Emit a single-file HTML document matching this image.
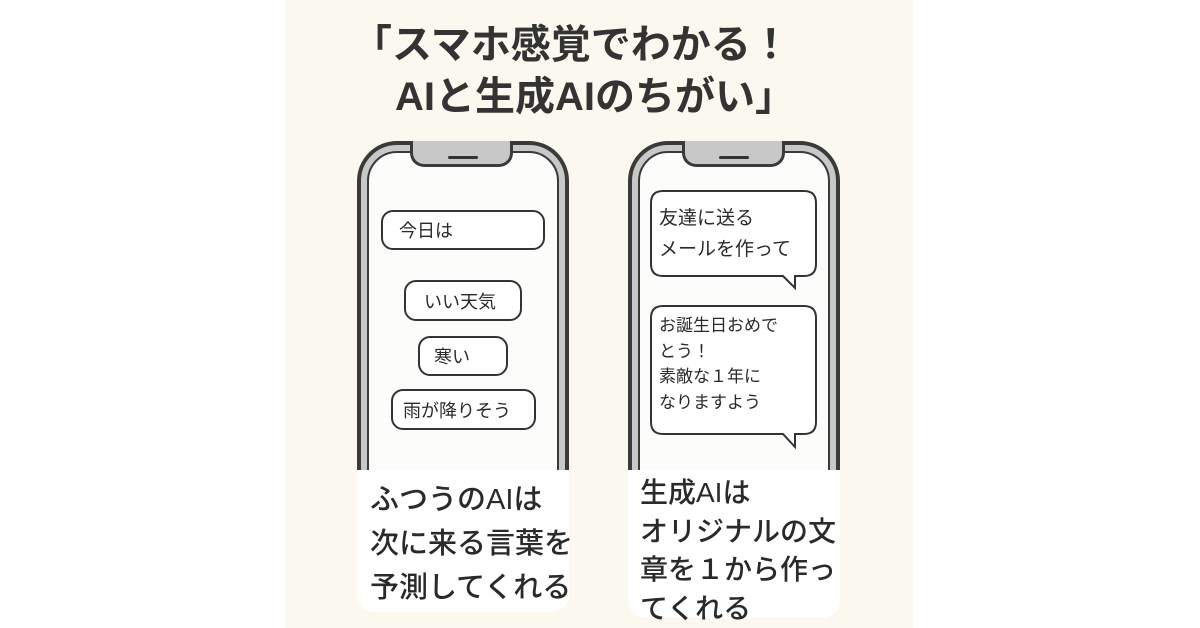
<!DOCTYPE html>
<html><head><meta charset="utf-8"><style>
body{margin:0;width:1200px;height:628px;background:#fff;position:relative;overflow:hidden;font-family:"Liberation Sans","Noto Sans CJK JP",sans-serif;color:#2a2a2a}
.panel{position:absolute;left:285px;top:0;width:628px;height:628px;background:#fbf8ef}
.t{position:absolute;font-weight:bold;font-size:40px;white-space:nowrap;color:#333;line-height:1}
.phone{position:absolute;top:141px;width:212px;height:400px;border:4px solid #3a3a3a;border-radius:40px;background:#c8c8c8;box-sizing:border-box}
.screen{position:absolute;left:6px;top:6px;right:6px;bottom:0;border:2px solid #3a3a3a;border-radius:30px;background:#fcfcfa}
.notch{position:absolute;top:-4px;height:26px;background:#c8c8c8;border:3px solid #3a3a3a;border-top:none;border-radius:0 0 14px 14px;box-sizing:border-box}
.spk{position:absolute;top:12px;height:3px;background:#333;border-radius:2px}
.lab{position:absolute;top:470px;width:212px;background:#fff;border-radius:0 0 18px 18px}
.b{position:absolute;border:2px solid #333;border-radius:12px;background:#fff;box-sizing:border-box;font-size:18px;display:flex;align-items:center}
.lt{position:absolute;font-size:29px;line-height:42px;white-space:nowrap;font-weight:500}
</style></head><body>
<div class="panel"></div>
<div class="t" style="left:352px;top:25px">「スマホ感覚でわかる！</div>
<div class="t" style="left:395px;top:77px">AIと生成AIのちがい」</div>

<div class="phone" style="left:357px"><div class="screen"></div></div>
<div class="notch" style="left:410px;top:141px;width:103px"></div>
<div class="spk" style="left:448px;top:156px;width:30px"></div>
<div class="b" style="left:381px;top:210px;width:164px;height:40px;padding-left:16px">今日は</div>
<div class="b" style="left:404px;top:280px;width:118px;height:41px;padding-left:18px">いい天気</div>
<div class="b" style="left:418px;top:336px;width:90px;height:40px;padding-left:14px">寒い</div>
<div class="b" style="left:391px;top:389px;width:145px;height:41px;padding-left:10px">雨が降りそう</div>
<div class="lab" style="left:357px;height:142px"></div>
<div class="lt" style="left:370px;top:478px;line-height:44px">ふつうのAIは<br>次に来る言葉を<br>予測してくれる</div>

<div class="phone" style="left:628px"><div class="screen"></div></div>
<div class="notch" style="left:682px;top:141px;width:103px"></div>
<div class="spk" style="left:719px;top:156px;width:30px"></div>
<svg style="position:absolute;left:0;top:0" width="1200" height="628">
<g fill="#fff" stroke="#333" stroke-width="2">
<path d="M663 191 H804 Q816 191 816 203 V264 Q816 276 804 276 H795 L795 288 L783 276 H663 Q651 276 651 264 V203 Q651 191 663 191 Z"/>
<path d="M663 306 H804 Q816 306 816 318 V422 Q816 434 804 434 H795 L795 447 L783 434 H663 Q651 434 651 422 V318 Q651 306 663 306 Z"/>
</g></svg>
<div style="position:absolute;left:659px;top:203px;font-size:19px;line-height:31px">友達に送る<br>メールを作って</div>
<div style="position:absolute;left:659px;top:313px;font-size:17px;line-height:25.5px">お誕生日おめで<br>とう！<br>素敵な１年に<br>なりますよう</div>
<div class="lab" style="left:628px;height:148px"></div>
<div class="lt" style="left:640px;top:474px;line-height:38.5px;font-size:28px">生成AIは<br>オリジナルの文<br>章を１から作っ<br>てくれる</div>
</body></html>
